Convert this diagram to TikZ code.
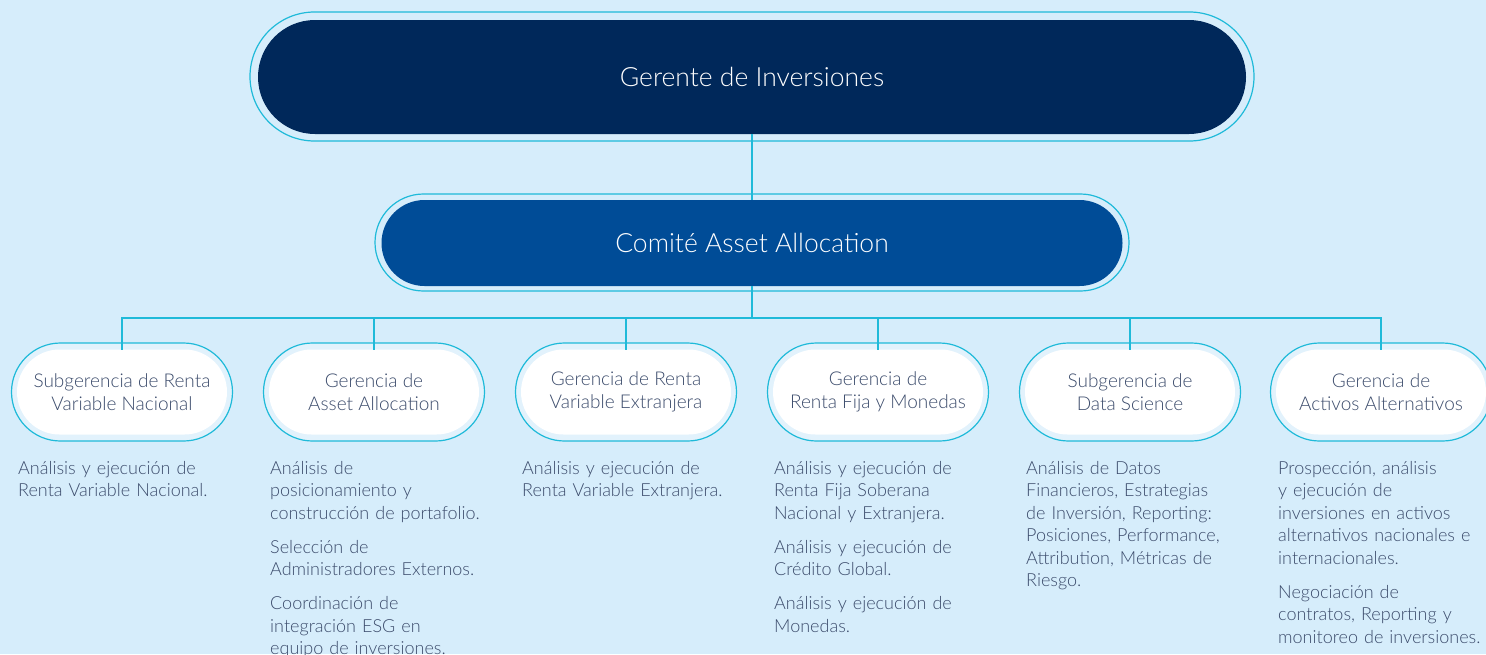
\documentclass[tikz,border=0pt]{standalone}
\usepackage{fontspec}
\setmainfont{Lato Light}
\usetikzlibrary{shapes.misc}
\definecolor{bgblue}{HTML}{D6EDFB}
\definecolor{ringcyan}{HTML}{1FBAD9}
\definecolor{navyfill}{HTML}{00285A}
\definecolor{midfill}{HTML}{004C97}
\definecolor{bandblue}{HTML}{E2F2FC}
\definecolor{inktext}{HTML}{3C4C6C}
\begin{document}
\begin{tikzpicture}
  [
    x=1pt, y=-1pt,
    ring/.style = {shape=rounded rectangle, draw=ringcyan, line width=1.2pt, inner sep=0pt, outer sep=0pt},
    pill/.style = {shape=rounded rectangle, inner sep=0pt, outer sep=0pt, align=center},
    topbox/.style = {pill, fill=navyfill, text=white, minimum width=988pt, minimum height=114pt, font=\fontsize{26.5}{30}\selectfont},
    midbox/.style = {pill, fill=midfill, text=white, minimum width=741pt, minimum height=86pt, font=\fontsize{26.5}{30}\selectfont},
    unitring/.style = {ring, fill=bandblue, minimum width=221pt, minimum height=98pt},
    unitbox/.style = {pill, fill=white, text=inktext, minimum width=210pt, minimum height=85pt, font=\fontsize{19}{23}\selectfont},
    tasks/.style = {anchor=base west, inner sep=0pt, text width=240pt, align=left, text=inktext, font=\fontsize{18}{22.5}\selectfont},
    link/.style = {draw=ringcyan, line width=1.2pt},
  ]

  \useasboundingbox (0,0) rectangle (1486,654);
  \fill[bgblue] (0,0) rectangle (1486,654);

  % top of the chart
  \node[ring, minimum width=1004pt, minimum height=129pt] (gerente-ring) at (752,76.5) {};
  \node[topbox] (gerente) at (752,77) {Gerente de Inversiones};

  \node[ring, minimum width=754pt, minimum height=97pt] (comite-ring) at (752,242.5) {};
  \node[midbox] (comite) at (752,243) {Comité Asset Allocation};

  \coordinate (bus) at (752,318);

  % units
  \node[unitring] (rvn-ring) at (122,392) {};
  \node[unitbox] (rvn) at (122,392) {Subgerencia de Renta\\Variable Nacional};

  \node[unitring] (aa-ring) at (374,392) {};
  \node[unitbox] (aa) at (374,392) {Gerencia de\\Asset Allocation};

  \node[unitring] (rve-ring) at (626,392) {};
  \node[unitbox] (rve) at (626,392) {Gerencia de Renta\\Variable Extranjera};

  \node[unitring] (rfm-ring) at (878,392) {};
  \node[unitbox] (rfm) at (878,392) {Gerencia de\\Renta Fija y Monedas};

  \node[unitring] (ds-ring) at (1130,392) {};
  \node[unitbox] (ds) at (1130,392) {Subgerencia de\\Data Science};

  \node[unitring] (alt-ring) at (1381,392) {};
  \node[unitbox] (alt) at (1381,392) {Gerencia de\\Activos Alternativos};

  % tasks under each unit
  \node[tasks] (rvn-tasks) at (18,474) {Análisis y ejecución de\\Renta Variable Nacional.};
  \node[tasks] (aa-tasks) at (270,474) {Análisis de\\posicionamiento y\\construcción de portafolio.\\[11.5pt]Selección de\\Administradores Externos.\\[11.5pt]Coordinación de\\integración ESG en\\equipo de inversiones.};
  \node[tasks] (rve-tasks) at (522,474) {Análisis y ejecución de\\Renta Variable Extranjera.};
  \node[tasks] (rfm-tasks) at (774,474) {Análisis y ejecución de\\Renta Fija Soberana\\Nacional y Extranjera.\\[11.5pt]Análisis y ejecución de\\Crédito Global.\\[11.5pt]Análisis y ejecución de\\Monedas.};
  \node[tasks] (ds-tasks) at (1026,474) {Análisis de Datos\\Financieros, Estrategias\\de Inversión, Reporting:\\Posiciones, Performance,\\Attribution, Métricas de\\Riesgo.};
  \node[tasks] (alt-tasks) at (1278,474) {Prospección, análisis\\y ejecución de\\inversiones en activos\\alternativos nacionales e\\internacionales.\\[11.5pt]Negociación de\\contratos, Reporting y\\monitoreo de inversiones.};

  % connectors
  \draw[link] (gerente.south) -- (comite.north);
  \draw[link] (comite.south) -- (bus);
  \draw[link] (bus) -| (rvn.north);
  \draw[link] (bus) -| (aa.north);
  \draw[link] (bus) -| (rve.north);
  \draw[link] (bus) -| (rfm.north);
  \draw[link] (bus) -| (ds.north);
  \draw[link] (bus) -| (alt.north);
\end{tikzpicture}
\end{document}
